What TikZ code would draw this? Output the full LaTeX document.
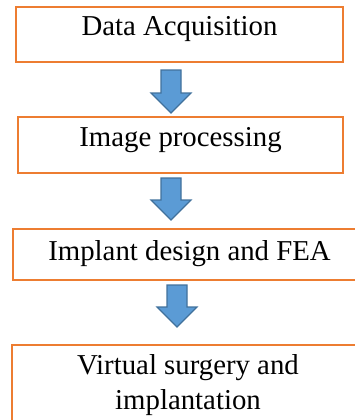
\documentclass[tikz,border=0pt]{standalone}
\usepackage{fontspec}
\setmainfont{Liberation Serif}
\usepackage{tikz}
\usetikzlibrary{calc}
\definecolor{BoxOrange}{HTML}{ED7D31}
\definecolor{ArrowBlue}{HTML}{5B9BD5}
\definecolor{ArrowEdge}{HTML}{41719C}
\tikzset{
  stagebox/.style={draw=BoxOrange,line width=2pt,fill=white,
    font=\fontsize{28.8}{35}\selectfont,align=center,inner sep=0pt},
  blkarrow/.style={draw=ArrowEdge,fill=ArrowBlue,line width=1.2pt,line join=miter,
    to path={let \p1=(\tikztostart),\p2=(\tikztotarget) in
      ({\x1-10pt},{\y1}) -- ({\x1+10pt},{\y1}) -- ({\x1+10pt},{\y2+20pt})
      -- ({\x1+20pt},{\y2+20pt}) -- (\x2,\y2) -- ({\x1-20pt},{\y2+20pt})
      -- ({\x1-10pt},{\y2+20pt}) -- cycle}},
}
\begin{document}
\begin{tikzpicture}[x=1pt,y=-1pt]
  \useasboundingbox (0,0) rectangle (354,420);
  \node[stagebox,minimum width=327pt,text height=29pt,text depth=26pt] (acq) at (179.5,34.5) {Data Acquisition};
  \node[stagebox,minimum width=325pt,text height=29pt,text depth=27pt] (img) at (180.5,145) {Image processing};
  \node[stagebox,minimum width=353pt,text height=31pt,text depth=20pt] (fea) at (189.5,254.5) {Implant design and FEA};
  \node[stagebox,minimum width=352pt,minimum height=80pt] (surg) at (188,385) {Virtual surgery and\\implantation};
  \coordinate (t1) at (171,70);  \coordinate (h1) at (171,113);
  \coordinate (t2) at (171,178); \coordinate (h2) at (171,220);
  \coordinate (t3) at (177,285); \coordinate (h3) at (177,327);
  \draw[blkarrow] (t1) to (h1);
  \draw[blkarrow] (t2) to (h2);
  \draw[blkarrow] (t3) to (h3);
\end{tikzpicture}
\end{document}
